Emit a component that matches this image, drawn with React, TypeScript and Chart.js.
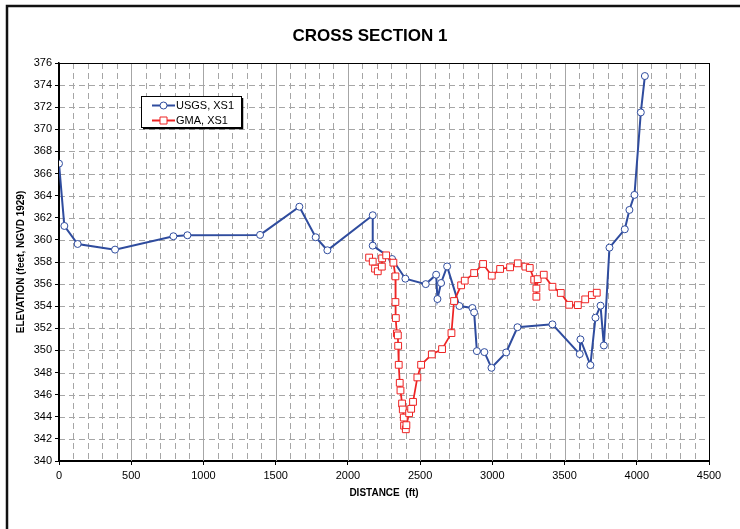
import React, { useEffect, useRef } from "react";
import { Chart, registerables } from "chart.js";

Chart.register(...registerables);

const chartTitle = "CROSS SECTION 1";
const xAxisTitle = "DISTANCE  (ft)";
const yAxisTitle = "ELEVATION (feet, NGVD 1929)";
const usgsLabel = "USGS, XS1";
const gmaLabel = "GMA, XS1";

const xMin = 0;
const xMax = 4500;
const xStep = 500;
const xMinorStep = 100;
const yMin = 340;
const yMax = 376;
const yStep = 2;

const usgsX = [0, 37, 129, 388, 792, 889, 1392, 1664, 1777, 1858, 2172, 2172, 2306, 2398, 2539, 2611, 2620, 2645, 2687, 2772, 2862, 2874, 2893, 2945, 2994, 3096, 3174, 3416, 3605, 3610, 3679, 3714, 3749, 3772, 3811, 3917, 3949, 3984, 4028, 4056];
const usgsY = [366.9, 361.26, 359.63, 359.12, 360.33, 360.42, 360.45, 363.0, 360.24, 359.06, 362.23, 359.48, 358.27, 356.49, 356.0, 356.85, 354.65, 356.1, 357.6, 354.02, 353.84, 353.44, 349.94, 349.85, 348.43, 349.82, 352.1, 352.36, 349.67, 351.0, 348.67, 352.96, 354.05, 350.45, 359.3, 360.96, 362.71, 364.07, 371.53, 374.82];

const gmaX = [2147, 2172, 2188, 2207, 2235, 2237, 2265, 2315, 2329, 2329, 2332, 2339, 2346, 2348, 2352, 2359, 2364, 2375, 2380, 2387, 2389, 2401, 2405, 2424, 2438, 2451, 2481, 2507, 2581, 2652, 2717, 2735, 2784, 2809, 2874, 2936, 2996, 3054, 3123, 3176, 3229, 3259, 3290, 3305, 3305, 3314, 3356, 3416, 3474, 3532, 3592, 3643, 3689, 3723];
const gmaY = [358.4, 358.03, 357.4, 357.16, 357.58, 358.33, 358.6, 357.94, 356.7, 354.38, 352.93, 351.54, 351.36, 350.42, 348.7, 347.07, 346.38, 345.2, 344.66, 343.93, 343.2, 342.87, 343.24, 344.32, 344.72, 345.35, 347.56, 348.7, 349.64, 350.12, 351.57, 354.47, 355.89, 356.31, 357.0, 357.82, 356.76, 357.37, 357.52, 357.88, 357.58, 357.46, 356.4, 355.6, 354.86, 356.45, 356.85, 355.76, 355.2, 354.13, 354.1, 354.62, 355.01, 355.22];

const BLUE = "#2F4C9E";
const RED = "#EE2424";
const FONT = "'Liberation Sans', Arial, sans-serif";

const decorPlugin = {
  id: "decor",
  beforeDatasetsDraw(chart: any) {
    const { ctx, chartArea, scales } = chart;
    const { left, right, top, bottom } = chartArea;
    const x = scales.x;
    const y = scales.y;
    ctx.save();
    ctx.lineWidth = 1;
    ctx.strokeStyle = "#A6A6A6";
    for (let v = xMin + xMinorStep; v < xMax; v += xMinorStep) {
      const px = Math.round(x.getPixelForValue(v)) + 0.5;
      ctx.setLineDash(v % xStep === 0 ? [] : [6, 4]);
      ctx.beginPath();
      ctx.moveTo(px, top);
      ctx.lineTo(px, bottom);
      ctx.stroke();
    }
    ctx.setLineDash([6, 4]);
    for (let v = yMin + yStep; v < yMax; v += yStep) {
      const py = Math.round(y.getPixelForValue(v)) + 0.5;
      ctx.beginPath();
      ctx.moveTo(left, py);
      ctx.lineTo(right, py);
      ctx.stroke();
    }
    ctx.setLineDash([]);
    ctx.strokeStyle = "#000";
    ctx.lineWidth = 1;
    ctx.strokeRect(Math.round(left) + 0.5, Math.round(top) + 0.5, Math.round(right - left), Math.round(bottom - top));
    ctx.restore();
  },
  afterDraw(chart: any) {
    const { ctx, chartArea, width } = chart;
    ctx.save();
    // outer frame
    ctx.strokeStyle = "#111";
    ctx.lineWidth = 2.5;
    ctx.strokeRect(7, 6, width + 40, 600);
    // title
    ctx.fillStyle = "#000";
    ctx.font = `bold 17px ${FONT}`;
    ctx.textAlign = "center";
    ctx.textBaseline = "middle";
    ctx.fillText(chartTitle, 370, 36);
    // legend
    const lx = chartArea.left + 82;
    const ly = chartArea.top + 33;
    const lw = 100;
    const lh = 31;
    ctx.fillStyle = "#fff";
    ctx.fillRect(lx, ly, lw, lh);
    ctx.strokeStyle = "#000";
    ctx.lineWidth = 1;
    ctx.strokeRect(lx + 0.5, ly + 0.5, lw, lh);
    ctx.lineWidth = 1.5;
    ctx.beginPath();
    ctx.moveTo(lx + lw + 1.5, ly + 2);
    ctx.lineTo(lx + lw + 1.5, ly + lh + 1.5);
    ctx.lineTo(lx + 2, ly + lh + 1.5);
    ctx.stroke();
    const items = [
      { label: usgsLabel, color: BLUE, style: "circle", cy: ly + 9.5 },
      { label: gmaLabel, color: RED, style: "rect", cy: ly + 24.5 },
    ];
    ctx.font = `11px ${FONT}`;
    ctx.textAlign = "left";
    ctx.textBaseline = "middle";
    for (const it of items) {
      ctx.strokeStyle = it.color;
      ctx.lineWidth = 2;
      ctx.beginPath();
      ctx.moveTo(lx + 11, it.cy);
      ctx.lineTo(lx + 34, it.cy);
      ctx.stroke();
      ctx.fillStyle = "#fff";
      ctx.lineWidth = 1;
      ctx.beginPath();
      if (it.style === "circle") {
        ctx.arc(lx + 22.5, it.cy, 3.5, 0, Math.PI * 2);
      } else {
        ctx.rect(lx + 19, it.cy - 3.5, 7, 7);
      }
      ctx.fill();
      ctx.stroke();
      ctx.fillStyle = "#000";
      ctx.fillText(it.label, lx + 35, it.cy + 0.5);
    }
    ctx.restore();
  },
};

export default function App() {
  const ref = useRef<HTMLCanvasElement | null>(null);
  useEffect(() => {
    if (!ref.current) return;
    Chart.defaults.font.family = FONT;
    const chart = new Chart(ref.current, {
      type: "scatter",
      data: {
        datasets: [
          {
            label: usgsLabel,
            data: usgsX.map((x, i) => ({ x, y: usgsY[i] })),
            showLine: true,
            borderColor: BLUE,
            borderWidth: 2,
            pointStyle: "circle",
            pointRadius: 3.5,
            pointBorderWidth: 1,
            pointBackgroundColor: "#fff",
            pointBorderColor: BLUE,
            order: 2,
          },
          {
            label: gmaLabel,
            data: gmaX.map((x, i) => ({ x, y: gmaY[i] })),
            showLine: true,
            borderColor: RED,
            borderWidth: 1.75,
            pointStyle: "rect",
            pointRadius: 4.8,
            pointBorderWidth: 1,
            pointBackgroundColor: "#fff",
            pointBorderColor: RED,
            order: 1,
          },
        ],
      },
      options: {
        responsive: false,
        animation: false,
        layout: { padding: { top: 63, left: 8, right: 31, bottom: 0 } },
        plugins: {
          legend: { display: false },
          title: { display: false },
          tooltip: { enabled: false },
        },
        scales: {
          x: {
            type: "linear",
            min: xMin,
            max: xMax,
            afterFit: (s: any) => {
              s.height = 68;
            },
            ticks: {
              stepSize: xStep,
              color: "#000",
              font: { size: 11 },
              padding: 4,
              maxRotation: 0,
              callback: (v: any) => String(v),
            },
            grid: { drawOnChartArea: false, drawTicks: true, tickLength: 4, tickColor: "#000" },
            border: { display: true, color: "#000", width: 1.5 },
            title: {
              display: true,
              text: xAxisTitle,
              color: "#000",
              font: { size: 10, weight: "bold" },
              padding: { top: 0, bottom: 30 },
            },
          },
          y: {
            type: "linear",
            min: yMin,
            max: yMax,
            afterFit: (s: any) => {
              s.width = 51;
            },
            ticks: { stepSize: yStep, color: "#000", font: { size: 11 }, padding: 3, callback: (v: any) => String(v) },
            grid: { drawOnChartArea: false, drawTicks: true, tickLength: 4, tickColor: "#000" },
            border: { display: true, color: "#000", width: 1.5 },
            title: {
              display: true,
              text: yAxisTitle,
              color: "#000",
              font: { size: 10, weight: "bold" },
              padding: { top: 7, bottom: 0 },
            },
          },
        },
      } as any,
      plugins: [decorPlugin],
    });
    return () => chart.destroy();
  }, []);
  return (
    <div style={{ position: "fixed", left: 0, top: 0, width: 740, height: 529, background: "#fff" }}>
      <canvas ref={ref} width={740} height={529} style={{ display: "block" }} />
    </div>
  );
}
